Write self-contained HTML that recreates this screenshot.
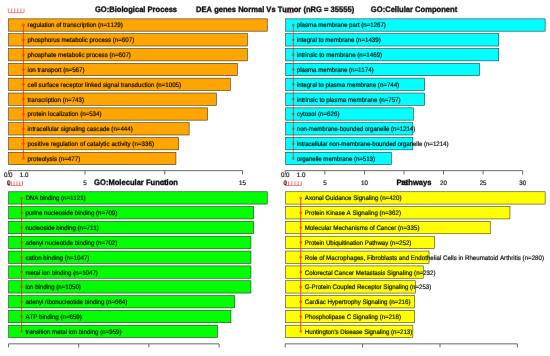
<!DOCTYPE html>
<html><head><meta charset="utf-8"><title>DEA genes Normal Vs Tumor</title>
<style>html,body{margin:0;padding:0;background:#fff}svg{display:block}text{font-family:"Liberation Sans",Arial,sans-serif;fill:#000;text-rendering:geometricPrecision;font-kerning:none}.l{font-size:49.44px}.t{font-size:60.64px;font-weight:bold;text-anchor:middle}.a{font-size:49.44px;text-anchor:middle}.l,.a{stroke:#000;stroke-width:1.4}.t{stroke:#000;stroke-width:2.4}.b{stroke:#000;stroke-opacity:.75;stroke-width:.6}.ax{stroke:#444;stroke-width:.8;fill:none}.r{stroke:#ff2020;stroke-width:.7;stroke-opacity:.85;fill:none}.m{stroke:#ff2800;stroke-width:.6;stroke-opacity:.9;fill:#ff4000;fill-opacity:.35}</style></head><body>
<svg width="550" height="356" viewBox="0 0 550 356">
<rect width="550" height="356" fill="#fff"/>
<defs><filter id="bl" x="0" y="0" width="550" height="356" filterUnits="userSpaceOnUse"><feConvolveMatrix order="3" kernelMatrix="0.00163 0.03713 0.00163 0.03713 0.84497 0.03713 0.00163 0.03713 0.00163" divisor="1" edgeMode="duplicate" preserveAlpha="false"/></filter></defs>
<g>
<path class="r" d="M8.30 12.65H24.00M8.30 12.65V8.45M11.44 12.65V8.45M14.58 12.65V8.45M17.72 12.65V8.45M20.86 12.65V8.45M24.00 12.65V8.45"/>
<rect class="b" x="8.65" y="18.85" width="258.60" height="12.35" fill="#FFA500"/>
<rect class="b" x="8.65" y="33.68" width="238.70" height="12.35" fill="#FFA500"/>
<rect class="b" x="8.65" y="48.51" width="238.70" height="12.35" fill="#FFA500"/>
<rect class="b" x="8.65" y="63.34" width="228.70" height="12.35" fill="#FFA500"/>
<rect class="b" x="8.65" y="78.17" width="221.70" height="12.35" fill="#FFA500"/>
<rect class="b" x="8.65" y="93.00" width="207.70" height="12.35" fill="#FFA500"/>
<rect class="b" x="8.65" y="107.83" width="198.90" height="12.35" fill="#FFA500"/>
<rect class="b" x="8.65" y="122.66" width="180.50" height="12.35" fill="#FFA500"/>
<rect class="b" x="8.65" y="137.49" width="169.90" height="12.35" fill="#FFA500"/>
<rect class="b" x="8.65" y="152.32" width="167.30" height="12.35" fill="#FFA500"/>
<path class="ax" d="M8.60 170.65H242.50M8.60 170.65V174.55M85.00 170.65V174.55M164.80 170.65V174.55M242.50 170.65V174.55"/>
<path class="r" d="M285.10 12.65H293.40M285.10 12.65V8.45M287.87 12.65V8.45M290.63 12.65V8.45M293.40 12.65V8.45"/>
<rect class="b" x="285.65" y="18.85" width="259.50" height="12.35" fill="#00FFFF"/>
<rect class="b" x="285.65" y="33.68" width="213.10" height="12.35" fill="#00FFFF"/>
<rect class="b" x="285.65" y="48.51" width="213.10" height="12.35" fill="#00FFFF"/>
<rect class="b" x="285.65" y="63.34" width="193.90" height="12.35" fill="#00FFFF"/>
<rect class="b" x="285.65" y="78.17" width="139.00" height="12.35" fill="#00FFFF"/>
<rect class="b" x="285.65" y="93.00" width="139.00" height="12.35" fill="#00FFFF"/>
<rect class="b" x="285.65" y="107.83" width="127.70" height="12.35" fill="#00FFFF"/>
<rect class="b" x="285.65" y="122.66" width="127.20" height="12.35" fill="#00FFFF"/>
<rect class="b" x="285.65" y="137.49" width="127.20" height="12.35" fill="#00FFFF"/>
<rect class="b" x="285.65" y="152.32" width="105.70" height="12.35" fill="#00FFFF"/>
<path class="ax" d="M285.30 170.65H522.66M285.30 170.65V174.55M324.86 170.65V174.55M364.42 170.65V174.55M403.98 170.65V174.55M443.54 170.65V174.55M483.10 170.65V174.55M522.66 170.65V174.55"/>
<path class="r" d="M8.40 185.40H22.50M8.40 185.40V181.20M11.22 185.40V181.20M14.04 185.40V181.20M16.86 185.40V181.20M19.68 185.40V181.20M22.50 185.40V181.20"/>
<rect class="b" x="8.65" y="191.75" width="258.60" height="12.35" fill="#00FF00"/>
<rect class="b" x="8.65" y="206.58" width="245.00" height="12.35" fill="#00FF00"/>
<rect class="b" x="8.65" y="221.41" width="245.00" height="12.35" fill="#00FF00"/>
<rect class="b" x="8.65" y="236.24" width="242.30" height="12.35" fill="#00FF00"/>
<rect class="b" x="8.65" y="251.07" width="242.30" height="12.35" fill="#00FF00"/>
<rect class="b" x="8.65" y="265.90" width="242.30" height="12.35" fill="#00FF00"/>
<rect class="b" x="8.65" y="280.73" width="242.30" height="12.35" fill="#00FF00"/>
<rect class="b" x="8.65" y="295.56" width="226.00" height="12.35" fill="#00FF00"/>
<rect class="b" x="8.65" y="310.39" width="222.30" height="12.35" fill="#00FF00"/>
<rect class="b" x="8.65" y="325.22" width="208.80" height="12.35" fill="#00FF00"/>
<path class="ax" d="M8.50 343.85H219.10M8.50 343.85V347.45M78.70 343.85V347.45M148.90 343.85V347.45M219.10 343.85V347.45"/>
<path class="r" d="M285.40 185.40H301.30M285.40 185.40V181.20M288.58 185.40V181.20M291.76 185.40V181.20M294.94 185.40V181.20M298.12 185.40V181.20M301.30 185.40V181.20"/>
<rect class="b" x="285.65" y="191.75" width="259.50" height="12.35" fill="#FFFF00"/>
<rect class="b" x="285.65" y="206.58" width="224.30" height="12.35" fill="#FFFF00"/>
<rect class="b" x="285.65" y="221.41" width="204.60" height="12.35" fill="#FFFF00"/>
<rect class="b" x="285.65" y="236.24" width="148.70" height="12.35" fill="#FFFF00"/>
<rect class="b" x="285.65" y="251.07" width="143.40" height="12.35" fill="#FFFF00"/>
<rect class="b" x="285.65" y="265.90" width="137.60" height="12.35" fill="#FFFF00"/>
<rect class="b" x="285.65" y="280.73" width="129.70" height="12.35" fill="#FFFF00"/>
<rect class="b" x="285.65" y="295.56" width="128.90" height="12.35" fill="#FFFF00"/>
<rect class="b" x="285.65" y="310.39" width="128.90" height="12.35" fill="#FFFF00"/>
<rect class="b" x="285.65" y="325.22" width="127.20" height="12.35" fill="#FFFF00"/>
<path class="ax" d="M285.20 343.85H517.40M285.20 343.85V347.45M362.60 343.85V347.45M440.00 343.85V347.45M517.40 343.85V347.45"/>
</g>
<g filter="url(#bl)">
<text class="l" transform="translate(27.60 27.47) scale(0.1250 0.1325)" textLength="761.7" lengthAdjust="spacing">regulation of transcription (n=1129)</text>
<text class="l" transform="translate(27.60 42.30) scale(0.1250 0.1325)" textLength="852.7" lengthAdjust="spacing">phosphorus metabolic process (n=607)</text>
<text class="l" transform="translate(27.60 57.14) scale(0.1250 0.1325)" textLength="826.1" lengthAdjust="spacing">phosphate metabolic process (n=607)</text>
<text class="l" transform="translate(27.60 71.97) scale(0.1250 0.1325)" textLength="454.8" lengthAdjust="spacing">ion transport (n=567)</text>
<text class="l" transform="translate(27.60 86.80) scale(0.1250 0.1325)" textLength="1227.9" lengthAdjust="spacing">cell surface receptor linked signal transduction (n=1005)</text>
<text class="l" transform="translate(27.60 101.63) scale(0.1250 0.1325)" textLength="451.0" lengthAdjust="spacing">transcription (n=743)</text>
<text class="l" transform="translate(27.60 116.45) scale(0.1250 0.1325)" textLength="591.2" lengthAdjust="spacing">protein localization (n=534)</text>
<text class="l" transform="translate(27.60 131.28) scale(0.1250 0.1325)" textLength="841.3" lengthAdjust="spacing">intracellular signaling cascade (n=444)</text>
<text class="l" transform="translate(27.60 146.11) scale(0.1250 0.1325)" textLength="1011.8" lengthAdjust="spacing">positive regulation of catalytic activity (n=336)</text>
<text class="l" transform="translate(27.60 160.94) scale(0.1250 0.1325)" textLength="420.7" lengthAdjust="spacing">proteolysis (n=477)</text>
<text class="a" transform="translate(8.60 184.50) scale(0.1250 0.1325)">0</text>
<text class="a" transform="translate(85.00 184.50) scale(0.1250 0.1325)">5</text>
<text class="a" transform="translate(164.80 184.50) scale(0.1250 0.1325)">10</text>
<text class="a" transform="translate(242.50 184.50) scale(0.1250 0.1325)">15</text>
<text class="a" transform="translate(8.20 176.80) scale(0.1250 0.1325)">0.0</text>
<text class="a" transform="translate(24.10 176.80) scale(0.1250 0.1325)">1.0</text>
<text class="t" transform="translate(136.00 12.45) scale(0.1250 0.1313)">GO:Biological Process</text>
<text class="l" transform="translate(296.85 27.47) scale(0.1250 0.1325)" textLength="712.5" lengthAdjust="spacing">plasma membrane part (n=1267)</text>
<text class="l" transform="translate(296.85 42.30) scale(0.1250 0.1325)" textLength="670.8" lengthAdjust="spacing">integral to membrane (n=1439)</text>
<text class="l" transform="translate(296.85 57.14) scale(0.1250 0.1325)" textLength="682.1" lengthAdjust="spacing">intrinsic to membrane (n=1469)</text>
<text class="l" transform="translate(296.85 71.97) scale(0.1250 0.1325)" textLength="613.9" lengthAdjust="spacing">plasma membrane (n=1174)</text>
<text class="l" transform="translate(296.85 86.80) scale(0.1250 0.1325)" textLength="818.6" lengthAdjust="spacing">integral to plasma membrane (n=744)</text>
<text class="l" transform="translate(296.85 101.63) scale(0.1250 0.1325)" textLength="829.9" lengthAdjust="spacing">intrinsic to plasma membrane (n=757)</text>
<text class="l" transform="translate(296.85 116.45) scale(0.1250 0.1325)" textLength="341.1" lengthAdjust="spacing">cytosol (n=626)</text>
<text class="l" transform="translate(296.85 131.28) scale(0.1250 0.1325)" textLength="947.4" lengthAdjust="spacing">non-membrane-bounded organelle (n=1214)</text>
<text class="l" transform="translate(296.85 146.11) scale(0.1250 0.1325)" textLength="1212.7" lengthAdjust="spacing">intracellular non-membrane-bounded organelle (n=1214)</text>
<text class="l" transform="translate(296.85 160.94) scale(0.1250 0.1325)" textLength="625.3" lengthAdjust="spacing">organelle membrane (n=513)</text>
<text class="a" transform="translate(285.30 184.50) scale(0.1250 0.1325)">0</text>
<text class="a" transform="translate(324.86 184.50) scale(0.1250 0.1325)">5</text>
<text class="a" transform="translate(364.42 184.50) scale(0.1250 0.1325)">10</text>
<text class="a" transform="translate(403.98 184.50) scale(0.1250 0.1325)">15</text>
<text class="a" transform="translate(443.54 184.50) scale(0.1250 0.1325)">20</text>
<text class="a" transform="translate(483.10 184.50) scale(0.1250 0.1325)">25</text>
<text class="a" transform="translate(522.66 184.50) scale(0.1250 0.1325)">30</text>
<text class="a" transform="translate(285.20 176.80) scale(0.1250 0.1325)">0.0</text>
<text class="a" transform="translate(301.10 176.80) scale(0.1250 0.1325)">1.0</text>
<text class="t" transform="translate(414.00 12.45) scale(0.1250 0.1313)">GO:Cellular Component</text>
<text class="l" transform="translate(25.40 200.38) scale(0.1250 0.1325)" textLength="481.3" lengthAdjust="spacing">DNA binding (n=1121)</text>
<text class="l" transform="translate(25.40 215.21) scale(0.1250 0.1325)" textLength="735.2" lengthAdjust="spacing">purine nucleoside binding (n=709)</text>
<text class="l" transform="translate(25.40 230.03) scale(0.1250 0.1325)" textLength="587.4" lengthAdjust="spacing">nucleoside binding (n=711)</text>
<text class="l" transform="translate(25.40 244.87) scale(0.1250 0.1325)" textLength="735.2" lengthAdjust="spacing">adenyl nucleotide binding (n=702)</text>
<text class="l" transform="translate(25.40 259.69) scale(0.1250 0.1325)" textLength="511.6" lengthAdjust="spacing">cation binding (n=1047)</text>
<text class="l" transform="translate(25.40 274.53) scale(0.1250 0.1325)" textLength="579.8" lengthAdjust="spacing">metal ion binding (n=1047)</text>
<text class="l" transform="translate(25.40 289.36) scale(0.1250 0.1325)" textLength="443.4" lengthAdjust="spacing">ion binding (n=1050)</text>
<text class="l" transform="translate(25.40 304.19) scale(0.1250 0.1325)" textLength="814.8" lengthAdjust="spacing">adenyl ribonucleotide binding (n=664)</text>
<text class="l" transform="translate(25.40 319.01) scale(0.1250 0.1325)" textLength="451.0" lengthAdjust="spacing">ATP binding (n=659)</text>
<text class="l" transform="translate(25.40 333.84) scale(0.1250 0.1325)" textLength="769.3" lengthAdjust="spacing">transition metal ion binding (n=959)</text>
<text class="t" transform="translate(136.00 185.10) scale(0.1250 0.1313)">GO:Molecular Function</text>
<text class="l" transform="translate(304.80 200.38) scale(0.1250 0.1325)" textLength="773.1" lengthAdjust="spacing">Axonal Guidance Signaling (n=420)</text>
<text class="l" transform="translate(304.80 215.21) scale(0.1250 0.1325)" textLength="769.3" lengthAdjust="spacing">Protein Kinase A Signaling (n=362)</text>
<text class="l" transform="translate(304.80 230.03) scale(0.1250 0.1325)" textLength="917.1" lengthAdjust="spacing">Molecular Mechanisms of Cancer (n=335)</text>
<text class="l" transform="translate(304.80 244.87) scale(0.1250 0.1325)" textLength="852.7" lengthAdjust="spacing">Protein Ubiquitination Pathway (n=252)</text>
<text class="l" transform="translate(304.80 259.69) scale(0.1250 0.1325)" textLength="1913.8" lengthAdjust="spacing">Role of Macrophages, Fibroblasts and Endothelial Cells in Rheumatoid Arthritis (n=280)</text>
<text class="l" transform="translate(304.80 274.53) scale(0.1250 0.1325)" textLength="1045.9" lengthAdjust="spacing">Colorectal Cancer Metastasis Signaling (n=232)</text>
<text class="l" transform="translate(304.80 289.36) scale(0.1250 0.1325)" textLength="1011.8" lengthAdjust="spacing">G-Protein Coupled Receptor Signaling (n=253)</text>
<text class="l" transform="translate(304.80 304.19) scale(0.1250 0.1325)" textLength="845.1" lengthAdjust="spacing">Cardiac Hypertrophy Signaling (n=216)</text>
<text class="l" transform="translate(304.80 319.01) scale(0.1250 0.1325)" textLength="769.3" lengthAdjust="spacing">Phospholipase C Signaling (n=218)</text>
<text class="l" transform="translate(304.80 333.84) scale(0.1250 0.1325)" textLength="860.3" lengthAdjust="spacing">Huntington&#39;s Disease Signaling (n=213)</text>
<text class="t" transform="translate(414.00 185.10) scale(0.1250 0.1313)">Pathways</text>
<text class="t" transform="translate(275.10 12.25) scale(0.1250 0.1313)">DEA genes Normal Vs Tumor (nRG = 35555)</text>
</g>
<path class="r" style="stroke-width:0.9;stroke:#ff1800" d="M23.40 25.02V158.50"/>
<circle class="m" cx="23.40" cy="25.02" r="1.05"/>
<circle class="m" cx="23.40" cy="39.85" r="1.05"/>
<circle class="m" cx="23.40" cy="54.69" r="1.05"/>
<circle class="m" cx="23.40" cy="69.52" r="1.05"/>
<circle class="m" cx="23.40" cy="84.34" r="1.05"/>
<circle class="m" cx="23.40" cy="99.18" r="1.05"/>
<circle class="m" cx="23.40" cy="114.00" r="1.05"/>
<circle class="m" cx="23.40" cy="128.84" r="1.05"/>
<circle class="m" cx="23.40" cy="143.66" r="1.05"/>
<circle class="m" cx="23.40" cy="158.50" r="1.05"/>
<path class="r" style="stroke-width:0.7;stroke:#e81010" d="M293.30 25.02V158.50"/>
<circle class="m" cx="293.30" cy="25.02" r="1.05"/>
<circle class="m" cx="293.30" cy="39.85" r="1.05"/>
<circle class="m" cx="293.30" cy="54.69" r="1.05"/>
<circle class="m" cx="293.30" cy="69.52" r="1.05"/>
<circle class="m" cx="293.30" cy="84.34" r="1.05"/>
<circle class="m" cx="293.30" cy="99.18" r="1.05"/>
<circle class="m" cx="293.30" cy="114.00" r="1.05"/>
<circle class="m" cx="293.30" cy="128.84" r="1.05"/>
<circle class="m" cx="293.30" cy="143.66" r="1.05"/>
<circle class="m" cx="293.30" cy="158.50" r="1.05"/>
<path class="r" style="stroke-width:0.85;stroke:#f81000" d="M21.60 197.93V331.39"/>
<circle class="m" cx="21.60" cy="197.93" r="1.05"/>
<circle class="m" cx="21.60" cy="212.76" r="1.05"/>
<circle class="m" cx="21.60" cy="227.59" r="1.05"/>
<circle class="m" cx="21.60" cy="242.42" r="1.05"/>
<circle class="m" cx="21.60" cy="257.25" r="1.05"/>
<circle class="m" cx="21.60" cy="272.08" r="1.05"/>
<circle class="m" cx="21.60" cy="286.91" r="1.05"/>
<circle class="m" cx="21.60" cy="301.74" r="1.05"/>
<circle class="m" cx="21.60" cy="316.56" r="1.05"/>
<circle class="m" cx="21.60" cy="331.39" r="1.05"/>
<path class="r" style="stroke-width:1.1;stroke:#ff3000" d="M300.70 197.93V331.39"/>
<circle class="m" cx="300.70" cy="197.93" r="1.05"/>
<circle class="m" cx="300.70" cy="212.76" r="1.05"/>
<circle class="m" cx="300.70" cy="227.59" r="1.05"/>
<circle class="m" cx="300.70" cy="242.42" r="1.05"/>
<circle class="m" cx="300.70" cy="257.25" r="1.05"/>
<circle class="m" cx="300.70" cy="272.08" r="1.05"/>
<circle class="m" cx="300.70" cy="286.91" r="1.05"/>
<circle class="m" cx="300.70" cy="301.74" r="1.05"/>
<circle class="m" cx="300.70" cy="316.56" r="1.05"/>
<circle class="m" cx="300.70" cy="331.39" r="1.05"/>
</svg></body></html>
